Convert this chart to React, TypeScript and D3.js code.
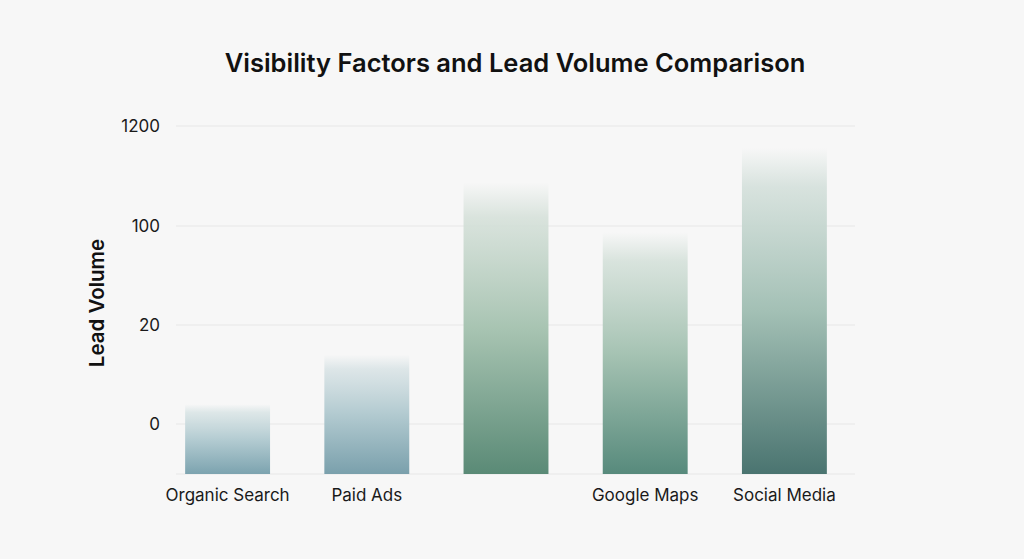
import { useEffect, useRef } from "react";
import * as d3 from "d3";

const categories = ["Organic Search", "Paid Ads", "", "Google Maps", "Social Media"];
const leadVolume = [4, 14, 580, 95, 960];
const yTicks = [0, 20, 100, 1200];
const yFloor = -10;
const barBase = ["#7ca3af", "#7aa0ac", "#5a8a76", "#578a7c", "#4a7470"];
const barMid = ["#b4ccd2", "#b2cad0", "#a8c4b2", "#a6c3b3", "#a3c0b5"];

export default function App() {
    const svgRef = useRef<SVGSVGElement | null>(null);

    useEffect(() => {
        const width = 1024;
        const height = 559;
        const plot = { left: 176, right: 855 };
        const font = "Inter, 'Liberation Sans', sans-serif";

        const svg = d3.select(svgRef.current);
        svg.selectAll("*").remove();

        svg.append("rect")
            .attr("width", width)
            .attr("height", height)
            .attr("fill", "#f7f7f7");

        const x = d3.scaleBand()
            .domain(categories.map((c, i) => String(i)))
            .range([158, 854])
            .paddingInner(0.39)
            .paddingOuter(0.195);

        // uneven axis: each labelled step gets the same height
        const y = d3.scaleLinear()
            .domain([yFloor, ...yTicks])
            .range([474, 424, 325, 226, 126]);

        const defs = svg.append("defs");
        barBase.forEach((c, i) => {
            const light = d3.interpolateRgb(barMid[i], "#f4f5f4")(0.6);
            const g = defs.append("linearGradient")
                .attr("id", `bar-grad-${i}`)
                .attr("x1", 0).attr("y1", 0)
                .attr("x2", 0).attr("y2", 1);
            g.append("stop").attr("offset", "0%").attr("stop-color", light).attr("stop-opacity", 0);
            g.append("stop").attr("offset", "12%").attr("stop-color", light).attr("stop-opacity", 0.9);
            g.append("stop").attr("offset", "50%").attr("stop-color", barMid[i]);
            g.append("stop").attr("offset", "100%").attr("stop-color", c);
        });

        // grid
        svg.append("g")
            .selectAll("line")
            .data([yFloor, ...yTicks])
            .enter()
            .append("line")
            .attr("x1", plot.left)
            .attr("x2", plot.right)
            .attr("y1", d => y(d))
            .attr("y2", d => y(d))
            .attr("stroke", "#e8e8e8")
            .attr("stroke-width", 1.2);

        svg.append("g")
            .selectAll("text")
            .data(yTicks)
            .enter()
            .append("text")
            .attr("x", 160)
            .attr("y", d => y(d))
            .attr("dy", "0.35em")
            .attr("text-anchor", "end")
            .attr("font-family", font)
            .attr("font-size", 17)
            .attr("fill", "#1a1a1a")
            .text(d => String(d));

        svg.append("g")
            .selectAll("rect")
            .data(leadVolume)
            .enter()
            .append("rect")
            .attr("x", (d, i) => x(String(i)) as number)
            .attr("y", d => y(d))
            .attr("width", x.bandwidth())
            .attr("height", d => y(yFloor) - y(d))
            .attr("fill", (d, i) => `url(#bar-grad-${i})`);

        svg.append("g")
            .selectAll("text")
            .data(categories)
            .enter()
            .append("text")
            .attr("x", (d, i) => (x(String(i)) as number) + x.bandwidth() / 2)
            .attr("y", 501)
            .attr("text-anchor", "middle")
            .attr("font-family", font)
            .attr("font-size", 17)
            .attr("fill", "#1a1a1a")
            .text(d => d);

        svg.append("text")
            .attr("x", 515)
            .attr("y", 72)
            .attr("text-anchor", "middle")
            .attr("font-family", font)
            .attr("font-size", 25.5)
            .attr("font-weight", 600)
            .attr("fill", "#111")
            .text("Visibility Factors and Lead Volume Comparison");

        svg.append("text")
            .attr("transform", "translate(104,303) rotate(-90)")
            .attr("text-anchor", "middle")
            .attr("font-family", font)
            .attr("font-size", 20.5)
            .attr("font-weight", 600)
            .attr("fill", "#111")
            .text("Lead Volume");
    }, []);

    return (
        <svg
            ref={svgRef}
            width={1024}
            height={559}
            style={{ position: "absolute", left: 0, top: 0, display: "block" }}
        />
    );
}
